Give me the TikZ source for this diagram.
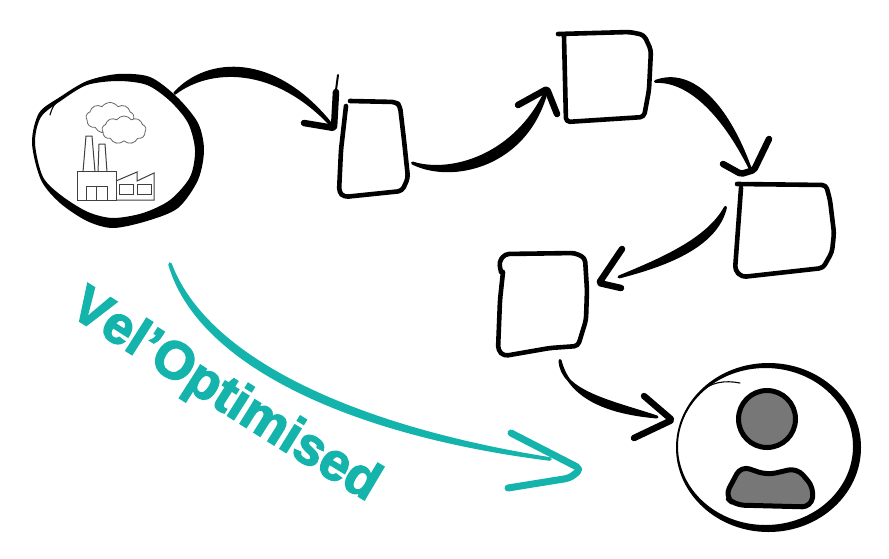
\documentclass[tikz,border=0pt]{standalone}
\usepackage{fontspec}
\setmainfont{Liberation Sans}
\newfontfamily\velfont[UprightFont=* Bold,FakeBold=2.8]{Liberation Sans}
\usetikzlibrary{calc,decorations.text,shapes.geometric,shapes.symbols}
\definecolor{velteal}{HTML}{14B4AC}
\definecolor{persongray}{HTML}{777777}
\tikzset{
  hand/.style={inner sep=0pt,outer sep=4pt,minimum width=#1},
  hand/.default=60pt,
  ink/.style={fill=black,draw=black,line width=3pt,line join=round},
  inkhead/.style={draw=black,line width=6.5pt,line cap=round,line join=round,rounded corners=2pt},
  outline/.style={draw=black,line width=4.6pt,line cap=round,line join=round,rounded corners=4pt},
  thinink/.style={draw=black,line width=1.1pt,line cap=round},
  plant/.style={draw=black!75,line width=1pt,line join=miter},
  puff/.style={cloud,cloud puffs=9,cloud puff arc=110,aspect=1.6,draw=black!60,fill=white,line width=0.8pt,inner sep=0pt},
}
\begin{document}
\begin{tikzpicture}[x=1pt,y=-1pt]
\useasboundingbox (0,0) rectangle (889,558);
% nodes
\node[hand=170pt,ellipse,minimum height=152pt,outer sep=0pt] (factory) at (118,150) {};
\node[hand=185pt,ellipse,minimum height=169pt,outer sep=0pt] (customer) at (768,447) {};
\node[hand=69pt,minimum height=96pt] (box1) at (374,149) {};
\node[hand=93pt,minimum height=90pt] (box2) at (605,77) {};
\node[hand=99pt,minimum height=93pt] (box3) at (785,230) {};
\node[hand=89pt,minimum height=103pt] (box4) at (542,305) {};
\coordinate (tip1) at (334,128);
\coordinate (tip2) at (547,89);
\coordinate (tip3) at (750,168);
\coordinate (tip4) at (599,283);
\coordinate (tip5) at (672,420);
\coordinate (tip6) at (581,469);
% factory circle
\fill[even odd rule] plot[smooth cycle] coordinates {(32,143) (39,113) (60,97) (87,81) (118,74) (150,77) (177,97) (198,123) (204,150) (198,180) (178,208) (147,221) (113,228) (87,221) (60,203) (41,180)}
  plot[smooth cycle] coordinates {(35,143) (41,117) (62,100) (87,85) (118,81) (147,85) (170,101) (188,123) (195,150) (190,177) (170,200) (143,213) (113,218) (88,212) (62,196) (43,177)};
\draw[thinink] (61,99) .. controls (54,103) and (52,108) .. (50,115);
% chimneys, halls and smoke
\node[puff,minimum width=48pt,minimum height=31pt] (smoke1) at (110,118) {};
\node[puff,minimum width=44pt,minimum height=28pt] (smoke2) at (124,130) {};
\draw[plant] (83,172) -- (86,136) -- (92,136) -- (95,172);
\draw[plant] (98,172) -- (99,144) -- (105,144) -- (107,172);
\draw[plant] (77,171) rectangle (116,200);
\draw[plant] (86,200) -- (86,186) -- (107,186) -- (107,200) (96,186) -- (96,200);
\draw[plant] (116,181) -- (137,172) -- (137,181) -- (154,173) -- (154,200) -- (116,200);
\draw[plant] (119,184) rectangle (133,194);
\draw[plant] (137,184) rectangle (151,194);
% sketched boxes
\draw[outline] (346,106) -- (341,150) -- (339,192) -- (344,197) -- (402,191) -- (408,178) -- (404,140) -- (400,106) -- (396,102) -- (350,101);
\draw[outline] (558,34) -- (630,32) -- (644,35) -- (651,50) -- (649,90) -- (644,117) -- (566,122) -- (564,36);
\draw[outline] (737,184) -- (826,185) -- (830,200) -- (834,233) -- (832,252) -- (823,268) -- (742,277) -- (735,270) -- (741,188);
\draw[outline] (503,272) -- (500,300) -- (498,350) -- (504,356) -- (550,348) -- (578,346) -- (586,320) -- (587,290) -- (585,258) -- (575,253) -- (505,254) -- (499,262) -- (501,272);
% customer circle
\fill[even odd rule] (768.5,447.5) ellipse [x radius=92.5pt,y radius=84.5pt] (765.5,446.5) ellipse [x radius=87.5pt,y radius=78.5pt];
\draw[thinink] (700,393) .. controls (710,382) and (725,380) .. (740,383);
\node[circle,draw=black,fill=persongray,line width=5pt,minimum size=57pt,inner sep=0pt] (head) at (767,419) {};
\draw[draw=black,fill=persongray,line width=5pt,line join=round,rounded corners=9pt] (741,466) -- (767,475) -- (797,468) -- (814,488) -- (811,507) -- (735,505) -- (725,496) -- cycle;
% connectors
\draw[ink] (factory.45) .. controls (207,58) and (275,52) .. (tip1) .. controls (275,63) and (209,67) .. cycle;
\draw[inkhead] (336,92) -- (tip1) -- (304,123);
\draw[thinink,line width=2pt] (336,90) -- (338,75);
\draw[ink] (box1.-20) .. controls (450,175) and (516,157) .. (tip2) .. controls (528,166) and (452,183) .. cycle;
\draw[inkhead] (518,105) -- (tip2) -- (557,114);
\draw[ink] (box2.-5) .. controls (692,68) and (727,105) .. (tip3) .. controls (722,112) and (688,80) .. cycle;
\draw[inkhead] (723,164) -- (741,174) -- (754,170) -- (769,139);
\draw[ink] ([xshift=-6pt]box3.157) .. controls (708,240) and (660,260) .. (619,277) .. controls (661,266) and (716,248) .. cycle;
\draw[inkhead] (622,249) -- (tip4) -- (621,288);
\draw[ink] (box4.-72) .. controls (561,392) and (612,402) .. (657,417) .. controls (612,413) and (570,400) .. cycle;
\draw[inkhead] (644,396) -- (tip5) -- (634,438);
% optimised route
\draw[fill=velteal,draw=velteal,line width=3.6pt,line join=round] (170,264) .. controls (205,358) and (350,427) .. (550,459) .. controls (350,434) and (198,363) .. cycle;
\draw[draw=velteal,line width=7pt,line cap=round,line join=round,rounded corners=5pt] (511,433) -- (tip6) -- (570,478) -- (508,488);
\path[decorate,decoration={text along path,text align=left,
  text={|\fontsize{53}{53}\selectfont\velfont\color{velteal}|Vel’Optimised}}]
  (68,314) .. controls (170,378) and (270,445) .. (385,512);
\end{tikzpicture}
\end{document}
